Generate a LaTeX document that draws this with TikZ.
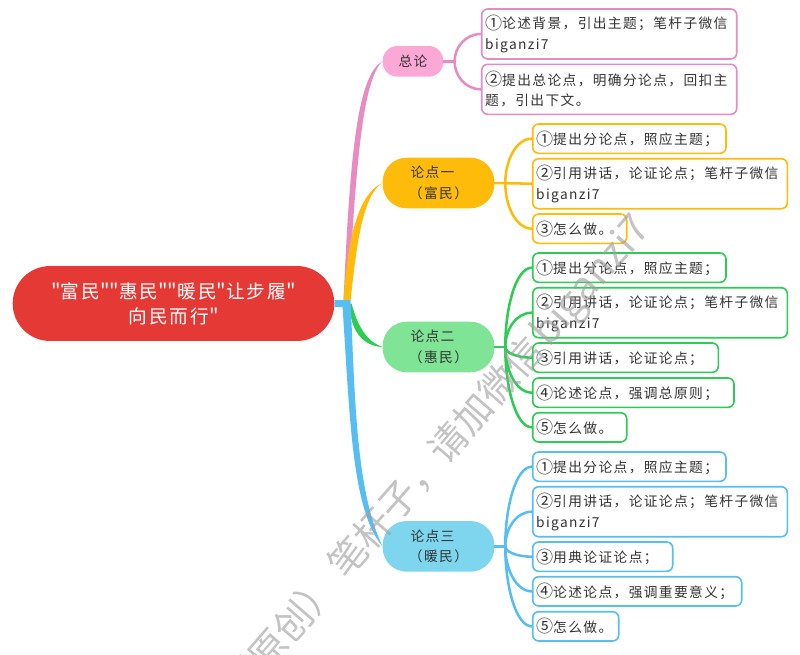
\documentclass[tikz,border=0pt]{standalone}
\usepackage{fontspec}
\usetikzlibrary{calc}
\newfontfamily\cjkbody[LetterSpace=10]{Noto Sans CJK SC}
\newfontfamily\cjkroot[LetterSpace=11]{Noto Sans CJK SC}
\newfontfamily\cjkplain{Noto Sans CJK SC}
\definecolor{cpink}{HTML}{E78BC0}
\definecolor{cpinkfill}{HTML}{FBA8D6}
\definecolor{cyel}{HTML}{FFBB0A}
\definecolor{cgreen}{HTML}{2ECC55}
\definecolor{cgreenfill}{HTML}{7FE495}
\definecolor{cblue}{HTML}{56BEF2}
\definecolor{cbluefill}{HTML}{7DD6EE}
\definecolor{croot}{HTML}{E53935}
\definecolor{ctext}{HTML}{333333}
\newcommand\cn[1]{\raisebox{-0.6pt}{\fontsize{12.8}{15.4}\selectfont #1}}
\newcommand\qm{{\cjkplain\fontsize{15}{18.8}\selectfont "}}
\tikzset{
  kidbox/.style={draw=#1,fill=white,line width=1.2pt,rounded corners=4.5pt,inner xsep=2.6pt,inner ysep=0pt,
    align=left,text=ctext,font=\cjkbody\fontsize{10.3}{15.4}\selectfont},
  topicbox/.style={fill=#1,draw=none,inner sep=0pt,align=center,text=ctext,font=\cjkbody\fontsize{10.3}{15.6}\selectfont},
  rootbox/.style={fill=croot,draw=none,inner sep=0pt,align=center,text=white,rounded corners=28pt,
    font=\cjkroot\fontsize{14}{18.8}\selectfont},
  limb/.style={draw=#1,line width=1.9pt,line cap=round},
  taper/.style={fill=#1,draw=none},
  wmark/.style={text=gray!75,opacity=0.62,inner sep=0pt,font=\cjkplain\fontsize{28.5}{28.5}\selectfont}
}
% name, colour, x1, y1, x2, y2, text
\newcommand\mmkid[7]{%
  \pgfmathsetmacro\mmcx{(#3+#5)/2}\pgfmathsetmacro\mmcy{(#4+#6)/2}%
  \pgfmathsetmacro\mmw{(#5-#3)*0.75}\pgfmathsetmacro\mmh{(#6-#4)*0.75}%
  \pgfmathsetmacro\mmtw{\mmw-5.2}%
  \node[kidbox=#2,text width=\mmtw pt,minimum height=\mmh pt] (#1) at (\mmcx,\mmcy) {#7};}
% name, fill, x1, y1, x2, y2, radius (pt), text
\newcommand\mmtopic[8]{%
  \pgfmathsetmacro\mmcx{(#3+#5)/2}\pgfmathsetmacro\mmcy{(#4+#6)/2}%
  \pgfmathsetmacro\mmw{(#5-#3)*0.75}\pgfmathsetmacro\mmh{(#6-#4)*0.75}%
  \node[topicbox=#2,rounded corners=#7pt,minimum width=\mmw pt,minimum height=\mmh pt] (#1) at (\mmcx,\mmcy) {#8};}
% colour, fork, box
\newcommand\mmlimb[3]{\draw[limb=#1] (#2) .. controls ($(#2)!0.5!(#2 |- #3.west)$) and ($(#3.west)!0.6!(#2 |- #3.west)$) .. (#3.west);}
\begin{document}
\begin{tikzpicture}[x=0.75pt,y=-0.75pt]
\useasboundingbox[fill=white] (0,0) rectangle (800,654);

% root
\node[rootbox,minimum width=241.2pt,minimum height=56.2pt] (root) at (173.5,303.5)
  {\qm 富民\qm\qm 惠民\qm\qm 暖民\qm 让步履\qm\\向民而行\qm};

% topics
\mmtopic{zong}{cpinkfill}{382.7}{46}{443.3}{76.7}{11}{总论}
\mmtopic{ta}{cyel}{382.7}{157.7}{494.3}{208.3}{18}{论点一\hspace*{9pt}\\（富民）}
\mmtopic{tb}{cgreenfill}{382.7}{321.7}{494.3}{372.3}{18}{论点二\hspace*{9pt}\\（惠民）}
\mmtopic{tc}{cbluefill}{382.7}{521}{494.3}{571.7}{18}{论点三\hspace*{9pt}\\（暖民）}

% boxes
\mmkid{z1}{cpink}{481.7}{9}{736.7}{59}{\cn{①}论述背景，引出主题；笔杆子微信\\biganzi7}
\mmkid{z2}{cpink}{481.7}{64.3}{736.7}{114.3}{\cn{②}提出总论点，明确分论点，回扣主\\题，引出下文。}

\mmkid{a1}{cyel}{532.7}{124}{726}{153.3}{\cn{①}提出分论点，照应主题；}
\mmkid{a2}{cyel}{532.7}{158.7}{787.3}{208.7}{\cn{②}引用讲话，论证论点；笔杆子微信\\biganzi7}
\mmkid{a3}{cyel}{532.7}{214}{626.7}{243.3}{\cn{③}怎么做。}

\mmkid{b1}{cgreen}{532.7}{253}{726}{282.3}{\cn{①}提出分论点，照应主题；}
\mmkid{b2}{cgreen}{532.7}{287.7}{787.3}{337.7}{\cn{②}引用讲话，论证论点；笔杆子微信\\biganzi7}
\mmkid{b3}{cgreen}{532.7}{343}{718.3}{372.3}{\cn{③}引用讲话，论证论点；}
\mmkid{b4}{cgreen}{532.7}{378}{734}{407.3}{\cn{④}论述论点，强调总原则；}
\mmkid{b5}{cgreen}{532.7}{412.7}{626.7}{442}{\cn{⑤}怎么做。}

\mmkid{c1}{cblue}{532.7}{452}{726}{481.3}{\cn{①}提出分论点，照应主题；}
\mmkid{c2}{cblue}{532.7}{486.7}{787.3}{536.7}{\cn{②}引用讲话，论证论点；笔杆子微信\\biganzi7}
\mmkid{c3}{cblue}{532.7}{542}{672.7}{571.3}{\cn{③}用典论证论点；}
\mmkid{c4}{cblue}{532.7}{576.7}{741.7}{606}{\cn{④}论述论点，强调重要意义；}
\mmkid{c5}{cblue}{532.7}{611.7}{618.7}{641}{\cn{⑤}怎么做。}

% tapered main branches
\coordinate (hub) at ($(root.east)+(12,0)$);
\fill[taper=cpink] ($(hub)+(-3,-3)$) .. controls (350,150) and (358,75) .. (zong.west)
  .. controls (363,80) and (356,160) .. ($(hub)+(2,-3)$) -- cycle;
\fill[taper=cyel] ($(hub)+(-3,-3)$) .. controls (347,250) and (355,195) .. (ta.west)
  .. controls (362,195) and (356,250) .. ($(hub)+(4,-3)$) -- cycle;
\fill[taper=cgreen] ($(hub)+(3,0)$) .. controls (350,330) and (362,346) .. (tb.west)
  .. controls (368,342) and (358,328) .. ($(hub)+(5,0)$) -- cycle;
\fill[taper=cblue] ($(root.east)+(0,-3.5)$) -- ($(hub)+(4,-3.5)$) .. controls (355,400) and (356,490) .. (tc.west)
  .. controls (352,510) and (350,420) .. ($(hub)+(-4,3.5)$) -- ($(root.east)+(0,3.5)$) -- cycle;

% sub-branches
\coordinate (fz) at ($(zong.east)+(11,0)$);
\draw[limb=cpink] (zong.east) -- (fz);
\mmlimb{cpink}{fz}{z1}
\mmlimb{cpink}{fz}{z2}

\coordinate (fa) at ($(ta.east)+(10.7,0)$);
\draw[limb=cyel] (ta.east) -- (a2.west);
\mmlimb{cyel}{fa}{a1}
\mmlimb{cyel}{fa}{a3}

\coordinate (fb) at ($(tb.east)+(10.7,0)$);
\draw[limb=cgreen] (tb.east) -- (fb);
\mmlimb{cgreen}{fb}{b1}
\mmlimb{cgreen}{fb}{b2}
\mmlimb{cgreen}{fb}{b3}
\mmlimb{cgreen}{fb}{b4}
\mmlimb{cgreen}{fb}{b5}

\coordinate (fc) at ($(tc.east)+(10.7,0)$);
\draw[limb=cblue] (tc.east) -- (fc);
\mmlimb{cblue}{fc}{c1}
\mmlimb{cblue}{fc}{c2}
\mmlimb{cblue}{fc}{c3}
\mmlimb{cblue}{fc}{c4}
\mmlimb{cblue}{fc}{c5}

% watermark, cut by the page edge
\begin{scope}
\clip (0,0) rectangle (800,654);
\node[wmark,rotate=49] (wm) at (438,459) {（原创）\hspace{7pt}笔杆子，请加微信\hspace{3pt}{\fontsize{30}{30}\selectfont biganzi7}};
\end{scope}
\end{tikzpicture}
\end{document}
